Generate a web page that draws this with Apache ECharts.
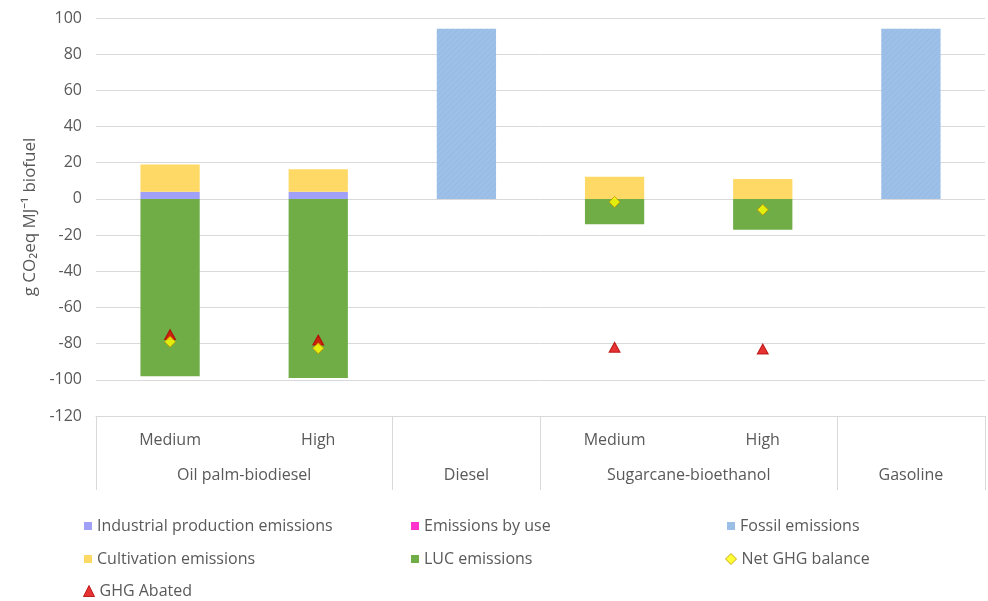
<!DOCTYPE html>
<html>
<head>
<meta charset="utf-8">
<script src="https://cdn.jsdelivr.net/npm/echarts@6/dist/echarts.min.js"></script>
<style>
  html, body { margin: 0; padding: 0; background: #ffffff; }
  #chart { width: 988px; height: 601px; }
</style>
</head>
<body>
<div id="chart"></div>
<script>
// Scenario slots along the horizontal axis
const levels = ['Medium', 'High', '', 'Medium', 'High', ''];
// Fuel groups and the slot position of each group centre
const groupNames = ['Oil palm-biodiesel', 'Diesel', 'Sugarcane-bioethanol', 'Gasoline'];
const groupCentres = [1, 2.5, 4, 5.5];
// Axis ticks (g CO2eq per MJ)
const yTicks = [-120, -100, -80, -60, -40, -20, 0, 20, 40, 60, 80, 100];

// Emission components per slot
const industrial = [4, 4, null, 0, 0, null];
const byUse = [0, 0, null, 0, 0, null];
const fossil = [null, null, 94, null, null, 94];
const cultivation = [15, 12.4, null, 12.3, 11, null];
const luc = [-98, -99, null, -14, -17, null];
const netBalance = [-79, -82.6, null, -1.7, -6, null];
const ghgAbated = [-75, -78, null, -82, -83, null];

const FONT = "'Open Sans', 'Noto Sans', sans-serif";
const TXT = '#595959';
const GRID = '#d9d9d9';

const chart = echarts.init(document.getElementById('chart'), null, { renderer: 'canvas' });

function bar(name, data, color, extra) {
  return Object.assign({
    name: name, type: 'bar', stack: 'total', data: data,
    barWidth: '40%',
    itemStyle: { color: color },
    emphasis: { disabled: true }
  }, extra || {});
}

function legendItem(name, left, top, icon, style) {
  return {
    data: [{ name: name, icon: icon, itemStyle: style }],
    left: left, top: top,
    itemWidth: icon === 'rect' ? 8 : 11, itemHeight: icon === 'rect' ? 8 : 11,
    textStyle: { fontFamily: FONT, fontSize: 16, color: TXT },
    itemGap: 0, padding: 0, selectedMode: false
  };
}

const option = {
  animation: false,
  backgroundColor: '#ffffff',
  grid: { left: 96, right: 0, top: 18, bottom: 185, containLabel: false },
  legend: [
    legendItem('Industrial production emissions', 84, 518, 'rect', { color: '#a0a0f8' }),
    legendItem('Emissions by use', 411, 518, 'rect', { color: '#ff33cc' }),
    legendItem('Fossil emissions', 727, 518, 'rect', { color: '#9dc0e8' }),
    legendItem('Cultivation emissions', 84, 551, 'rect', { color: '#ffd966' }),
    legendItem('LUC emissions', 411, 551, 'rect', { color: '#70ad47' }),
    legendItem('Net GHG balance', 725, 551, 'diamond', { color: '#ffff00', borderColor: '#bf9000', borderWidth: 1 }),
    legendItem('GHG Abated', 83, 583, 'triangle', { color: '#e00000', borderColor: '#b00000', borderWidth: 1 })
  ],
  xAxis: [
    {
      type: 'category',
      data: levels,
      axisLine: { show: true, onZero: false, lineStyle: { color: GRID, width: 1 } },
      axisTick: {
        show: true, length: 74,
        interval: function (i) { return i === 0 || i === 2 || i === 3 || i === 5; },
        lineStyle: { color: GRID }
      },
      axisLabel: { interval: 0, margin: 16, fontFamily: FONT, fontSize: 16, color: TXT }
    },
    {
      type: 'value',
      min: 0, max: 6, interval: 0.5,
      position: 'bottom',
      axisLine: { show: false, onZero: false },
      axisTick: { show: false },
      splitLine: { show: false },
      axisLabel: {
        margin: 51, fontFamily: FONT, fontSize: 16, color: TXT,
        showMinLabel: true, showMaxLabel: true,
        formatter: function (v) {
          const k = groupCentres.indexOf(v);
          return k >= 0 ? groupNames[k] : '';
        }
      }
    }
  ],
  yAxis: {
    type: 'value',
    min: yTicks[0], max: yTicks[yTicks.length - 1], interval: 20,
    name: 'g CO\u2082eq MJ\u207B\u00B9 biofuel',
    nameLocation: 'middle',
    nameGap: 52,
    nameTextStyle: { fontFamily: FONT, fontSize: 17, color: TXT },
    axisLine: { show: false },
    axisTick: { show: false },
    axisLabel: { margin: 14, fontFamily: FONT, fontSize: 16, color: TXT },
    splitLine: { lineStyle: { color: GRID, width: 1 } }
  },
  series: [
    bar('Industrial production emissions', industrial, '#a0a0f8'),
    bar('Emissions by use', byUse, '#ff33cc'),
    bar('Fossil emissions', fossil, '#9dc0e8', {
      itemStyle: {
        color: '#9dc0e8',
        // faint diagonal texture on the fossil bars
        decal: {
          symbol: 'rect', symbolSize: 1, rotation: -Math.PI / 4,
          dashArrayX: [1, 0], dashArrayY: [1, 3],
          color: 'rgba(140,176,220,0.35)'
        }
      }
    }),
    bar('Cultivation emissions', cultivation, '#ffd966'),
    bar('LUC emissions', luc, '#70ad47'),
    {
      name: 'Net GHG balance', type: 'scatter', data: netBalance,
      symbol: 'diamond', symbolSize: 11, z: 5,
      itemStyle: { color: '#ffff00', borderColor: '#bf9000', borderWidth: 1 },
      emphasis: { disabled: true }
    },
    {
      name: 'GHG Abated', type: 'scatter', data: ghgAbated,
      symbol: 'triangle', symbolSize: [11, 10], z: 4,
      itemStyle: { color: '#e00000', borderColor: '#b00000', borderWidth: 1 },
      emphasis: { disabled: true }
    }
  ]
};

chart.setOption(option);
</script>
</body>
</html>
